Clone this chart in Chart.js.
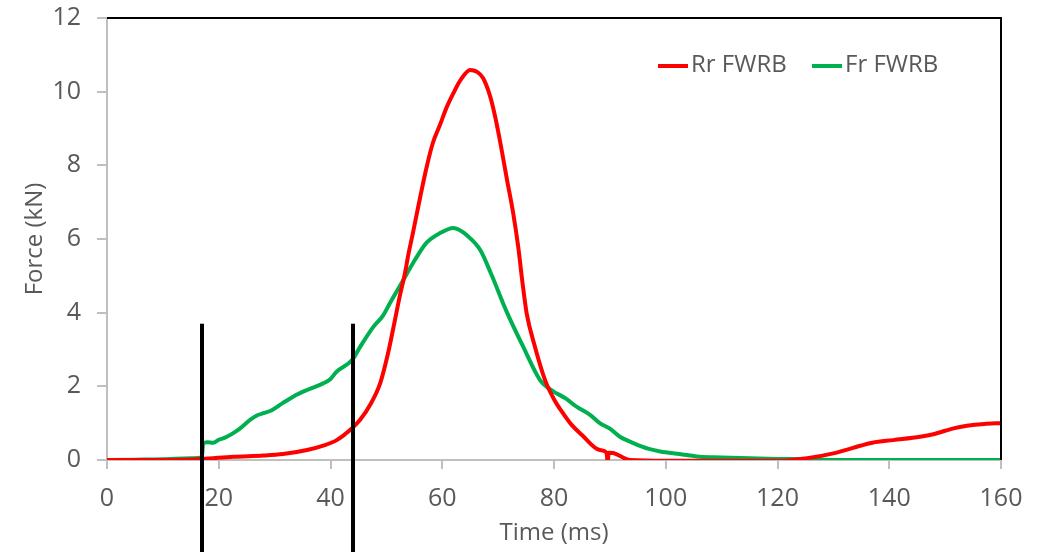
<!DOCTYPE html>
<html>
<head>
<meta charset="utf-8">
<script src="https://cdn.jsdelivr.net/npm/chart.js@4.4.1/dist/chart.umd.min.js"></script>
<style>
  html, body { margin: 0; padding: 0; background: #fff; }
  #wrap { width: 1044px; height: 552px; position: relative; }
</style>
</head>
<body>
<div id="wrap"><canvas id="force-chart"></canvas></div>
<script>
// Rr FWRB (red) force trace, time in ms / force in kN
const rrTime = [0, 10, 17, 22.6, 28, 31.5, 35.8, 38.7, 41.1, 43.9, 45.3, 47.1, 48.9, 50.3, 51.2, 52.4, 53.3, 53.9, 54.8,
  56, 57.2, 58.3, 59.6, 60.8, 62, 63.2, 65, 66.2, 67.3, 68.6, 69.5, 70.3, 71.6, 72.7, 73.6, 74.3, 75.1, 76.6, 78.4,
  80, 81.6, 83, 85, 88.2, 89.4, 89.6, 89.8, 90.6, 93.6, 100, 110, 120, 125.3, 130, 133.5, 137, 140.7, 145.5, 147.9, 151.5,
  153.9, 157, 160];
const rrForce = [0, 0.0, 0.03, 0.09, 0.12, 0.16, 0.27, 0.39, 0.54, 0.87, 1.09, 1.5, 2.09, 2.9, 3.55, 4.45, 5.05, 5.55, 6.2,
  7.1, 7.95, 8.6, 9.1, 9.58, 9.96, 10.3, 10.59, 10.54, 10.37, 9.86, 9.3, 8.69, 7.6, 6.7, 5.78, 4.89, 3.99, 3.07, 2.17,
  1.65, 1.27, 0.98, 0.68, 0.27, 0.2, -0.05, 0.2, 0.19, 0.0, -0.02, -0.02, -0.02, 0.05, 0.18, 0.33, 0.47, 0.54, 0.63, 0.7, 0.86,
  0.93, 0.98, 1.0];

// Fr FWRB (green) force trace
const frTime = [0, 5, 10, 15, 17, 17.2, 18, 19, 20, 21, 22.6, 24, 25.6, 27, 28, 29.5, 31.5, 33.3, 35.8, 38.7,
  40, 41.1, 43.9, 45.3, 47.6, 49.4, 50.6, 52.7, 55.1, 57.2, 59.6, 62, 63, 64.4, 66.8, 68.7, 71.6, 74.5, 77.5, 79,
  80, 82, 84.1, 86.5, 88.2, 90, 91.8, 94.2, 97, 99, 102.5, 106, 110, 115, 120, 125, 130, 140, 150, 160];
const frForce = [0, 0.01, 0.02, 0.05, 0.08, 0.45, 0.48, 0.47, 0.55, 0.6, 0.73, 0.88, 1.09, 1.22, 1.27, 1.35, 1.55, 1.72, 1.9, 2.08,
  2.2, 2.4, 2.72, 3.07, 3.6, 3.92, 4.25, 4.8, 5.43, 5.9, 6.16, 6.3, 6.25, 6.1, 5.7, 5.07, 4.0, 3.07, 2.17, 1.95,
  1.85, 1.68, 1.44, 1.22, 1.0, 0.85, 0.63, 0.46, 0.3, 0.23, 0.16, 0.09, 0.07, 0.05, 0.03, 0.02, 0.0, 0.0, 0.0, 0.0];

// vertical marker lines (ms) and the force level where they start
const markerTimes = [17, 44];
const markerTop = 3.7;

const xTicks = [0, 20, 40, 60, 80, 100, 120, 140, 160];
const yTicks = [0, 2, 4, 6, 8, 10, 12];

const textGrey = '#595959';
const axisGrey = '#bfbfbf';
const font = { family: 'Open Sans', size: 24 };
const tickFont = { family: 'Open Sans', size: 25 };

function toPoints(xs, ys) {
  return xs.map((x, i) => ({ x: x, y: ys[i] }));
}

const framePlugin = {
  id: 'frame',
  afterDatasetsDraw(chart) {
    const ctx = chart.ctx;
    const a = chart.chartArea;
    const xs = chart.scales.x, ys = chart.scales.y;
    ctx.save();
    // black top/right border
    ctx.strokeStyle = '#000';
    ctx.lineWidth = 2;
    ctx.beginPath();
    ctx.moveTo(a.left, a.top);
    ctx.lineTo(a.right, a.top);
    ctx.lineTo(a.right, a.bottom);
    ctx.stroke();
    // marker lines, running down past the axis
    ctx.lineWidth = 4;
    markerTimes.forEach(t => {
      const px = Math.round(xs.getPixelForValue(t));
      ctx.beginPath();
      ctx.moveTo(px, ys.getPixelForValue(markerTop));
      ctx.lineTo(px, chart.height);
      ctx.stroke();
    });
    // legend inside the plot, top right
    ctx.font = '24px "Open Sans"';
    ctx.textBaseline = 'middle';
    const ly = a.top + 48;
    let lx = a.left + 551;
    chart.data.datasets.forEach(ds => {
      ctx.strokeStyle = ds.borderColor;
      ctx.lineWidth = 4;
      ctx.beginPath();
      ctx.moveTo(lx, ly);
      ctx.lineTo(lx + 30, ly);
      ctx.stroke();
      ctx.fillStyle = textGrey;
      ctx.fillText(ds.label, lx + 33, ly - 1);
      lx += 154;
    });
    ctx.restore();
  }
};

new Chart(document.getElementById('force-chart').getContext('2d'), {
  type: 'line',
  data: {
    datasets: [{
      label: 'Rr FWRB',
      data: toPoints(rrTime, rrForce),
      borderColor: '#ff0000',
      borderWidth: 4,
      pointRadius: 0,
      cubicInterpolationMode: 'monotone'
    }, {
      label: 'Fr FWRB',
      data: toPoints(frTime, frForce),
      borderColor: '#00b050',
      borderWidth: 4,
      pointRadius: 0,
      cubicInterpolationMode: 'monotone'
    }]
  },
  options: {
    responsive: true,
    maintainAspectRatio: false,
    animation: false,
    layout: { padding: { top: 18, right: 43, left: 0, bottom: 0 } },
    plugins: {
      legend: { display: false },
      tooltip: { enabled: false }
    },
    scales: {
      x: {
        type: 'linear',
        min: 0,
        max: 160,
        afterBuildTicks: s => { s.ticks = xTicks.map(v => ({ value: v })); },
        afterFit: s => { s.height = 92; s.paddingLeft = 0; s.paddingRight = 0; },
        ticks: { color: textGrey, font: tickFont, padding: 15, maxRotation: 0 },
        grid: { drawOnChartArea: false, color: axisGrey, tickLength: 9, lineWidth: 2 },
        border: { color: axisGrey, width: 2 },
        title: { display: true, text: 'Time (ms)', color: textGrey, font: font, padding: { bottom: 4 } }
      },
      y: {
        min: 0,
        max: 12,
        afterBuildTicks: s => { s.ticks = yTicks.map(v => ({ value: v })); },
        afterFit: s => { s.width = 107; s.paddingTop = 0; s.paddingBottom = 0; },
        ticks: { color: textGrey, font: tickFont, padding: 16 },
        grid: { drawOnChartArea: false, color: axisGrey, tickLength: 10, lineWidth: 2 },
        border: { color: axisGrey, width: 2 },
        title: { display: true, text: 'Force (kN)', color: textGrey, font: font, padding: { top: 21 } }
      }
    }
  },
  plugins: [framePlugin]
});
</script>
</body>
</html>
